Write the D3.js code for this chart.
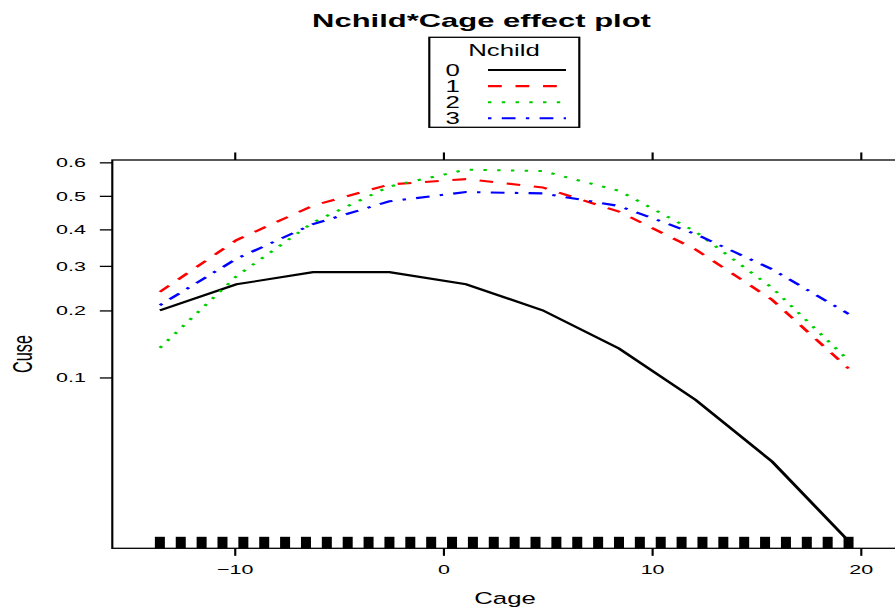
<!DOCTYPE html>
<html>
<head>
<meta charset="utf-8">
<script src="https://cdn.jsdelivr.net/npm/d3@7"></script>
<style>
  html, body { margin: 0; padding: 0; background: #fff; overflow: hidden; }
  svg { display: block; }
  text { font-family: "Liberation Sans", Arial, Helvetica, sans-serif; fill: #000; }
</style>
</head>
<body>
<svg id="chart"></svg>
<script>
// Cage grid used by the effect
const cage = [-13.56, -9.89, -6.22, -2.56, 1.11, 4.78, 8.44, 12.11, 15.78, 19.44];

// fitted Cuse probability per Nchild level
const nchild0 = [0.200, 0.255, 0.284, 0.284, 0.255, 0.200, 0.136, 0.078, 0.0385, 0.0151];
const nchild1 = [0.238, 0.369, 0.470, 0.534, 0.550, 0.525, 0.452, 0.343, 0.221, 0.110];
const nchild2 = [0.137, 0.274, 0.420, 0.528, 0.578, 0.574, 0.515, 0.393, 0.247, 0.120];
const nchild3 = [0.210, 0.318, 0.415, 0.483, 0.511, 0.507, 0.469, 0.386, 0.291, 0.193];

const levels = ["0", "1", "2", "3"];
const yTicks = [0.1, 0.2, 0.3, 0.4, 0.5, 0.6];
const xTicks = [-10, 0, 10, 20];

// rug of observed Cage values
const rugAges = [-13.56, -12.56, -11.56, -10.56, -9.56, -8.56, -7.56, -6.56, -5.56, -4.56,
  -3.56, -2.56, -1.56, -0.56, 0.44, 1.44, 2.44, 3.44, 4.44, 5.44, 6.44, 7.44, 8.44, 9.44,
  10.44, 11.44, 12.44, 13.44, 14.44, 15.44, 16.44, 17.44, 18.44, 19.44];

const colors = ["#000000", "#ff0000", "#00cd00", "#0000ff"];
const dashes = [null, "6.4,6.4", "1.6,4.8", "1.6,4.8,6.4,4.8"];

// the picture is stretched: draw in unit space, then scale to 895x609
const W = 895, H = 609;
const SX = 2.15, SY = 1.3;
const fx = (p) => p / SX;
const fy = (p) => p / SY;

const svg = d3.select("#chart")
  .attr("width", W)
  .attr("height", H)
  .attr("viewBox", `0 0 ${W / SX} ${H / SY}`)
  .attr("preserveAspectRatio", "none");

const panel = { left: 112.3, right: 898, top: 160, bottom: 548.3 };

const logit = (p) => Math.log(p / (1 - p));
const expit = (l) => 1 / (1 + Math.exp(-l));

const x = d3.scaleLinear()
  .domain([-15.84, 21.81])
  .range([fx(panel.left), fx(panel.right)]);

const y = d3.scaleLinear()
  .domain([-4.266, 0.432])
  .range([fy(panel.bottom), fy(panel.top)]);

const tick = 5.8;

// left axis
const yAxis = svg.append("g")
  .attr("transform", `translate(${fx(panel.left)},0)`)
  .call(d3.axisLeft(y)
    .tickValues(yTicks.map(logit))
    .tickSize(tick)
    .tickPadding(6.5)
    .tickFormat((d) => d3.format(".1f")(expit(d))));

// bottom axis
const xAxis = svg.append("g")
  .attr("transform", `translate(0,${fy(panel.bottom)})`)
  .call(d3.axisBottom(x).tickValues(xTicks).tickSize(tick).tickPadding(7.2));

// top axis, ticks only
const xTop = svg.append("g")
  .attr("transform", `translate(0,${fy(panel.top)})`)
  .call(d3.axisTop(x).tickValues(xTicks).tickSize(tick).tickFormat(""));

[yAxis, xAxis, xTop].forEach((g) => {
  g.select(".domain").remove();
  g.selectAll("line").attr("stroke", "#000").attr("stroke-width", 1);
  g.selectAll("text").attr("font-size", 10).style("font-family", null);
  g.attr("font-family", null);
});

// panel box
svg.append("rect")
  .attr("x", fx(panel.left))
  .attr("y", fy(panel.top))
  .attr("width", fx(panel.right) - fx(panel.left))
  .attr("height", fy(panel.bottom) - fy(panel.top))
  .attr("fill", "none")
  .attr("stroke", "#000")
  .attr("stroke-width", 1);

// rug
svg.append("g")
  .selectAll("rect")
  .data(rugAges)
  .join("rect")
  .attr("x", (d) => x(d) - fx(10) / 2)
  .attr("width", fx(10))
  .attr("y", fy(panel.bottom - 11.5))
  .attr("height", fy(11.5))
  .attr("fill", "#000");

// effect curves
const series = [nchild0, nchild1, nchild2, nchild3];
const line = d3.line()
  .x((d, i) => x(cage[i]))
  .y((d) => y(logit(d)));

series.forEach((vals, idx) => {
  svg.append("path")
    .attr("d", line(vals))
    .attr("fill", "none")
    .attr("stroke", colors[idx])
    .attr("stroke-width", 1.6)
    .attr("stroke-dasharray", dashes[idx]);
});

// title
svg.append("text")
  .attr("x", fx(481.5))
  .attr("y", fy(26.7))
  .attr("text-anchor", "middle")
  .attr("font-size", 14.4)
  .attr("font-weight", "bold")
  .text("Nchild*Cage effect plot");

// axis titles
svg.append("text")
  .attr("x", fx(505))
  .attr("y", fy(604.5))
  .attr("text-anchor", "middle")
  .attr("font-size", 12)
  .text("Cage");

svg.append("text")
  .attr("transform", `translate(${fx(31.5)},${fy(354)}) rotate(-90)`)
  .attr("text-anchor", "middle")
  .attr("font-size", 12.5)
  .text("Cuse");

// legend
const key = svg.append("g");
key.append("rect")
  .attr("x", fx(429.3))
  .attr("y", fy(37.3))
  .attr("width", fx(579.3 - 429.3))
  .attr("height", fy(127.3 - 37.3))
  .attr("fill", "#fff")
  .attr("stroke", "#000")
  .attr("stroke-width", 1);

key.append("text")
  .attr("x", fx(504))
  .attr("y", fy(56))
  .attr("text-anchor", "middle")
  .attr("font-size", 12)
  .text("Nchild");

levels.forEach((lev, idx) => {
  const rowY = 70 + idx * 16.1;
  key.append("text")
    .attr("x", fx(445.5))
    .attr("y", fy(rowY + 5.8))
    .attr("font-size", 12)
    .text(lev);
  key.append("line")
    .attr("x1", fx(488))
    .attr("x2", fx(566))
    .attr("y1", fy(rowY))
    .attr("y2", fy(rowY))
    .attr("stroke", colors[idx])
    .attr("stroke-width", 1.6)
    .attr("stroke-dasharray", dashes[idx]);
});
</script>
</body>
</html>
